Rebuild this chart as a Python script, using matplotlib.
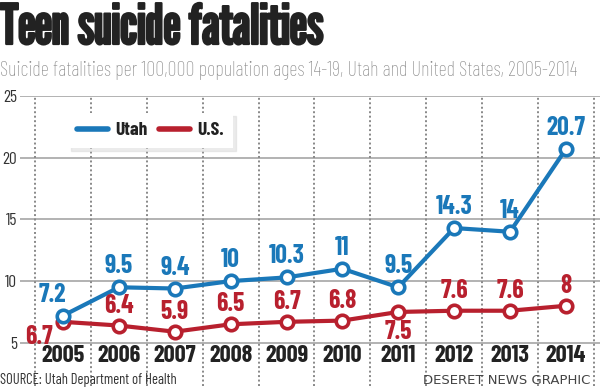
import matplotlib.pyplot as plt
from matplotlib.lines import Line2D
import matplotlib.patheffects as pe

years = [2005, 2006, 2007, 2008, 2009, 2010, 2011, 2012, 2013, 2014]
utah = [7.2, 9.5, 9.4, 10, 10.3, 11, 9.5, 14.3, 14, 20.7]
us = [6.7, 6.4, 5.9, 6.5, 6.7, 6.8, 7.5, 7.6, 7.6, 8]
utah_labels = ["7.2", "9.5", "9.4", "10", "10.3", "11", "9.5", "14.3", "14", "20.7"]
us_labels = ["6.7", "6.4", "5.9", "6.5", "6.7", "6.8", "7.5", "7.6", "7.6", "8"]
y_ticks = [5, 10, 15, 20, 25]

BLUE = "#1a78b9"
RED = "#b8202e"
GRID = "#a6a6a6"
COND = ["Barlow Condensed", "Roboto Condensed", "DejaVu Sans"]
TITLE = ["League Gothic", "Barlow Condensed", "DejaVu Sans"]

fig = plt.figure(figsize=(6, 3.9), dpi=100)
ax = fig.add_axes([20 / 600, 1 - 386 / 390, 580 / 600, 290 / 390])
ax.set_xlim(2004.23, 2014.61)
ax.set_ylim(1.5, 25)
for s in ax.spines.values():
    s.set_visible(False)
ax.set_xticks([])
ax.set_yticks(y_ticks)
ax.set_yticklabels([str(t) for t in y_ticks], family=COND, fontsize=12.5, color="#333333")
ax.tick_params(axis="y", length=0, pad=2)

# grid
for t in y_ticks:
    ax.axhline(t, color=GRID, lw=1.2, zorder=1)
for x in range(2004, 2015):
    ax.plot([x + 0.5, x + 0.5], [1.5, 25], color="#888888", lw=1.4,
            ls=(0, (1, 1.3)), zorder=1)

# lines
ax.plot(years, utah, color=BLUE, lw=3, marker="o", ms=9, mfc="white",
        mec=BLUE, mew=2.6, zorder=4)
ax.plot(years, us, color=RED, lw=3, marker="o", ms=9, mfc="white",
        mec=RED, mew=2.6, zorder=3)

lab_kw = dict(family=COND, fontsize=18.5, fontweight="bold",
              textcoords="offset pixels", ha="center", zorder=5)
for i, (x, y) in enumerate(zip(years, utah)):
    off = (-11, 9) if i == 0 else (0, 9)
    ax.annotate(utah_labels[i], (x, y), xytext=off, va="bottom", color=BLUE, **lab_kw)
for i, (x, y) in enumerate(zip(years, us)):
    if i == 0:
        ax.annotate(us_labels[i], (x, y), xytext=(-24, -3), va="top", color=RED, **lab_kw)
    elif years[i] == 2011:
        ax.annotate(us_labels[i], (x, y), xytext=(0, -8), va="top", color=RED, **lab_kw)
    else:
        ax.annotate(us_labels[i], (x, y), xytext=(0, 8), va="bottom", color=RED, **lab_kw)

# year labels
for x in years:
    ax.text(x, 3.9, str(x), family=COND, fontsize=17.5, fontweight="bold",
            color="#222222", ha="center", va="center")

# legend
handles = [Line2D([], [], color=BLUE, lw=4, solid_capstyle="round"),
           Line2D([], [], color=RED, lw=4, solid_capstyle="round")]
leg = fig.legend(handles, ["Utah", "U.S."], loc="upper left",
                 bbox_to_anchor=(68 / 600, 1 - 113 / 390), ncol=2,
                 prop={"family": COND, "size": 14, "weight": "bold"},
                 frameon=True, fancybox=False,
                 shadow={"ox": 2, "oy": -2, "color": "#d8d8d8"},
                 handlelength=1.6, handletextpad=0.4, columnspacing=0.55,
                 borderpad=0.45, borderaxespad=0)
leg.get_frame().set_edgecolor("none")
leg.get_frame().set_facecolor("white")
leg.get_frame().set_alpha(1)
for t in leg.get_texts():
    t.set_color("#222222")

# titles
fig.text(0.0, 1 - 3 / 390, "Teen suicide fatalities", family=TITLE, fontsize=40,
         color="#222222", ha="left", va="top",
         path_effects=[pe.withStroke(linewidth=1.6, foreground="#222222")])
fig.text(0.0, 1 - 70 / 390,
         "Suicide fatalities per 100,000 population ages 14-19, Utah and United States, 2005-2014",
         family=COND, fontsize=14.7, fontweight="light", color="#8a8a8a", ha="left", va="center")
fig.text(0.0, 1 - 380 / 390, "SOURCE: Utah Department of Health", family=COND,
         fontsize=10.5, color="#333333", ha="left", va="center")
fig.text(590 / 600, 1 - 381 / 390, "DESERET NEWS GRAPHIC", fontsize=9.5,
         color="#444444", ha="right", va="center")

fig.savefig("out.png", dpi=100)
